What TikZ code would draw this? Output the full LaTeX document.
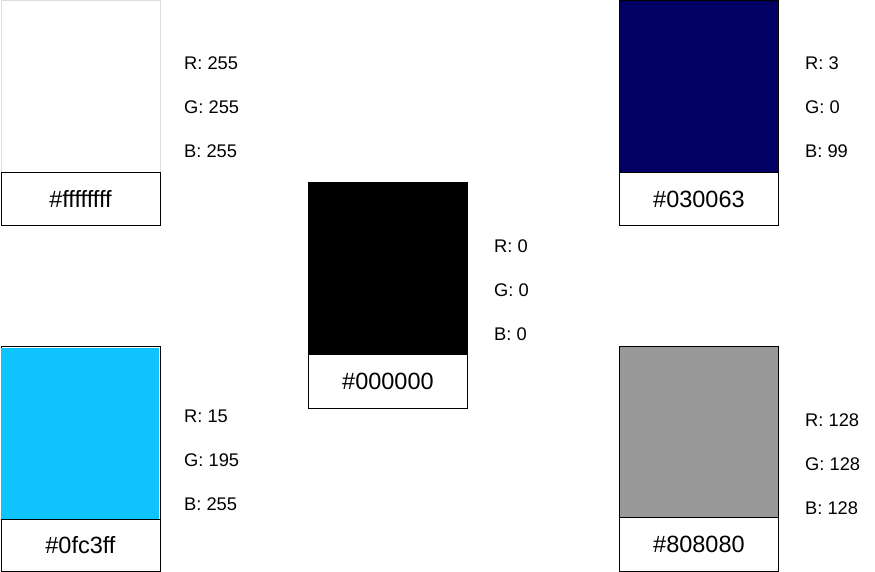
\documentclass[tikz,border=0pt]{standalone}
\usepackage{fontspec}
\setmainfont{Liberation Sans}
\definecolor{navy}{HTML}{030063}
\definecolor{cyanc}{HTML}{0FC3FF}
\definecolor{greyc}{HTML}{999999}
\definecolor{lightb}{HTML}{DDDDDD}
\newcommand{\lbltxt}[1]{\raisebox{-1.5pt}{#1}}
\begin{document}
\begin{tikzpicture}[x=1pt,y=-1pt,
  swatch/.style={draw=black,line width=0.9pt,inner sep=0pt,minimum width=159pt,minimum height=#1,anchor=north west},
  labelbox/.style={draw=black,fill=white,line width=0.9pt,inner sep=0pt,minimum width=159pt,anchor=north west,font=\fontsize{23.5}{27}\selectfont},
  rgb/.style={anchor=west,inner sep=0pt,font=\fontsize{18.3}{21}\selectfont}]
\useasboundingbox (0,0) rectangle (875,572);
% swatch 1 white
\node[swatch=172pt,draw=lightb,fill=white] (c1) at (0.5,0.5) {};
\node[labelbox,minimum height=53pt] (l1) at (0.5,172) {\lbltxt{\#ffffffff}};
\node[rgb] (r1) at (184,63) {R: 255};
\node[rgb] (g1) at (184,107) {G: 255};
\node[rgb] (b1) at (184,151) {B: 255};
% swatch 2 black
\node[swatch=172pt,fill=black] (c2) at (308,182) {};
\node[labelbox,minimum height=54pt] (l2) at (308,354) {\lbltxt{\#000000}};
\node[rgb] (r2) at (494,246) {R: 0};
\node[rgb] (g2) at (494,290) {G: 0};
\node[rgb] (b2) at (494,334) {B: 0};
% swatch 3 navy
\node[swatch=172pt,fill=navy] (c3) at (619,0.5) {};
\node[labelbox,minimum height=53pt] (l3) at (619,172) {\lbltxt{\#030063}};
\node[rgb] (r3) at (805,63) {R: 3};
\node[rgb] (g3) at (805,107) {G: 0};
\node[rgb] (b3) at (805,151) {B: 99};
% swatch 4 cyan
\node[swatch=225pt,fill=white] (o4) at (0.5,346) {};
\node[inner sep=0pt,fill=cyanc,minimum width=158pt,minimum height=171pt,anchor=north west] (c4) at (1,348) {};
\node[labelbox,minimum height=52pt] (l4) at (0.5,519) {\lbltxt{\#0fc3ff}};
\node[rgb] (r4) at (184,416) {R: 15};
\node[rgb] (g4) at (184,460) {G: 195};
\node[rgb] (b4) at (184,504) {B: 255};
% swatch 5 grey
\node[swatch=171pt,fill=greyc] (c5) at (619,346) {};
\node[labelbox,minimum height=54pt] (l5) at (619,517) {\lbltxt{\#808080}};
\node[rgb] (r5) at (805,420) {R: 128};
\node[rgb] (g5) at (805,464) {G: 128};
\node[rgb] (b5) at (805,508) {B: 128};
\end{tikzpicture}
\end{document}
